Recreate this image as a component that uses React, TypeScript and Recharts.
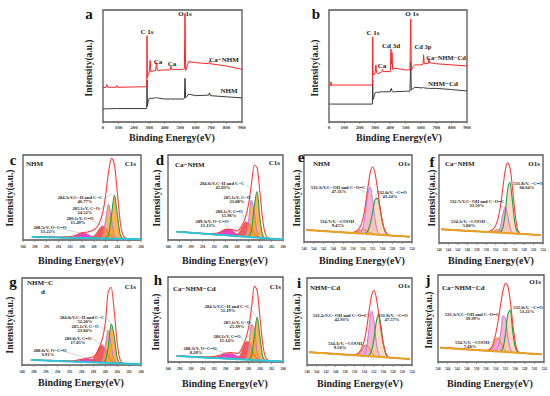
import React from "react";
import { ComposedChart, Area, Line, XAxis, YAxis, ReferenceArea } from "recharts";

const SERIF = "'Liberation Serif', 'Times New Roman', serif";

// ---- survey spectra (a, b) ----
const aX = [0, 20, 25, 30, 85, 90, 95, 280, 283, 285, 287, 292, 300, 305, 310, 340, 347, 352, 400, 435, 440, 445, 520, 527, 531, 535, 545, 555, 600, 685, 690, 695, 800, 900];
const aCaNhm = [30.6, 31, 33.5, 31, 31, 32.5, 31, 31.5, 31.5, 77, 39, 42, 45, 55, 45, 46, 53, 46, 46.5, 46.5, 50, 47, 47, 48, 97, 46, 50, 54, 53, 52, 54.5, 52, 50, 47];
const aNhm = [11.6, 11.8, 11.8, 11.8, 12, 12, 12, 12, 12, 37.5, 14, 18, 21, 21.5, 21, 21.5, 22, 21.5, 20.5, 20.5, 21, 20.5, 20.5, 21, 39, 21.5, 23, 25, 23.5, 24, 26, 23.5, 22.5, 21.5];

const bX = [0, 10, 13, 16, 20, 280, 283, 285, 287, 292, 300, 306, 310, 320, 345, 349, 353, 400, 404, 407, 411, 415, 420, 430, 500, 528, 533, 537, 545, 560, 600, 613, 617, 621, 648, 652, 656, 700, 800, 900];
const bCaNhmCd = [32, 32.5, 36, 32.5, 33, 33, 33, 76, 44, 42, 43, 51, 44, 43, 45, 47, 45, 45, 65, 52, 62, 47, 47, 48, 46.5, 46.5, 92, 46, 49, 51, 51, 51.5, 60, 52, 52.5, 57, 53, 52, 51, 50];
const bNhmCd = [16, 16, 16, 16, 16, 16, 16, 37.5, 20, 22, 26, 26.5, 26.5, 26.5, 27, 27, 27, 27, 29.5, 30, 27.5, 27, 27, 27, 27.5, 27.5, 53.6, 28.5, 29.5, 31, 30.5, 30.5, 31, 30.5, 30, 30, 30, 30, 29, 27.7];

const surveyTicks = [0, 100, 200, 300, 400, 500, 600, 700, 800, 900];

// ---- C1s high resolution (c, d, g, h) ----
const c1sX = [298.5, 296, 294, 292, 291, 290, 289, 288, 287.5, 287, 286.5, 286, 285.5, 285, 284.5, 284, 283.5, 283, 282.5, 282, 281, 280];
const c1sTicks = [280, 282, 284, 286, 288, 290, 292, 294, 296, 298, 300];

const cBase = [3.5, 3.2, 2.9, 2.6, 2.5, 2.4, 2.2, 2.1, 2.0, 1.9, 1.9, 1.8, 1.7, 1.7, 1.6, 1.5, 1.5, 1.4, 1.3, 1.3, 1.1, 1.0];
const cEnv = [4, 3.8, 3.6, 4.0, 5.8, 8.8, 9.5, 12, 15, 21, 32, 52, 80, 96, 88, 55, 20, 5, 2, 1.4, 1.2, 1.0];
const cCC = [3.5, 3.2, 2.9, 2.6, 2.5, 2.4, 2.2, 2.1, 2.0, 1.9, 1.9, 2.0, 6.1, 29.5, 53, 29.3, 5.9, 1.6, 1.3, 1.3, 1.1, 1.0];
const cCO = [3.5, 3.2, 2.9, 2.6, 2.5, 2.4, 2.2, 2.1, 2.0, 2.1, 5.3, 23.6, 42, 23.5, 5.0, 1.7, 1.5, 1.4, 1.3, 1.3, 1.1, 1.0];
const cCdO = [3.5, 3.2, 2.9, 2.6, 2.5, 2.4, 2.3, 4.6, 8.7, 13.9, 16.5, 13.8, 8.5, 4.4, 2.1, 1.5, 1.5, 1.4, 1.3, 1.3, 1.1, 1.0];
const cOCO = [3.5, 3.2, 2.9, 2.8, 4.6, 8.1, 6.6, 3.1, 2.3, 1.95, 1.9, 1.8, 1.7, 1.7, 1.6, 1.5, 1.5, 1.4, 1.3, 1.3, 1.1, 1.0];

const dBase = [9.8, 8.5, 7.5, 6.5, 6.0, 5.5, 5.0, 4.5, 4.3, 4.0, 3.8, 3.5, 3.3, 3.0, 2.8, 2.5, 2.3, 2.0, 1.8, 1.5, 1.0, 0.5];
const dEnv = [10, 8.8, 7.8, 7.5, 9, 12.5, 12.5, 10.5, 13, 19, 27, 42, 65, 88, 85, 55, 22, 6, 2.2, 1.6, 1.0, 0.5];
const dCC = [9.8, 8.5, 7.5, 6.5, 6.0, 5.5, 5.0, 4.5, 4.3, 4.0, 3.8, 3.9, 10.6, 39.3, 57, 24.7, 5.0, 2.1, 1.8, 1.5, 1.0, 0.5];
const dCO = [9.8, 8.5, 7.5, 6.5, 6.0, 5.5, 5.0, 4.5, 4.3, 4.1, 6.0, 21.5, 47, 32.4, 8.7, 2.8, 2.3, 2.0, 1.8, 1.5, 1.0, 0.5];
const dCdO = [9.8, 8.5, 7.5, 6.5, 6.0, 5.5, 5.0, 6.4, 10.2, 16.3, 21.3, 20.3, 14.2, 7.8, 4.2, 2.6, 2.3, 2.0, 1.8, 1.5, 1.0, 0.5];
const dOCO = [9.8, 8.5, 7.5, 6.8, 8.4, 12.0, 11.5, 6.9, 5.3, 4.3, 3.8, 3.5, 3.3, 3.0, 2.8, 2.5, 2.3, 2.0, 1.8, 1.5, 1.0, 0.5];

const gBase = [5.7, 5.1, 4.6, 4.0, 3.8, 3.5, 3.3, 3.0, 2.9, 2.7, 2.6, 2.5, 2.4, 2.3, 2.1, 2.0, 1.9, 1.7, 1.6, 1.5, 1.3, 1.0];
const gEnv = [6, 5.5, 5, 4.8, 5.2, 6.5, 8, 9.5, 13, 20, 30, 48, 84, 89, 62, 25, 6, 2, 1.7, 1.5, 1.3, 1.0];
const gCC = [5.7, 5.1, 4.6, 4.0, 3.8, 3.5, 3.3, 3.0, 2.9, 2.7, 2.6, 4.8, 21.2, 47.5, 32.8, 8.2, 2.3, 1.7, 1.6, 1.5, 1.3, 1.0];
const gCO = [5.7, 5.1, 4.6, 4.0, 3.8, 3.5, 3.3, 3.0, 2.9, 2.9, 5.8, 22.8, 40, 22.6, 5.3, 2.2, 1.9, 1.7, 1.6, 1.5, 1.3, 1.0];
const gCdO = [5.7, 5.1, 4.6, 4.0, 3.8, 3.5, 3.5, 7.4, 13.7, 20.7, 22.8, 17.9, 10.4, 5.1, 2.7, 2.0, 1.9, 1.7, 1.6, 1.5, 1.3, 1.0];
const gOCO = [5.7, 5.1, 4.6, 4.1, 4.4, 5.8, 7.1, 5.7, 4.6, 3.6, 2.9, 2.5, 2.4, 2.3, 2.1, 2.0, 1.9, 1.7, 1.6, 1.5, 1.3, 1.0];

const hBase = [7.0, 6.1, 5.4, 4.7, 4.4, 4.0, 3.7, 3.3, 3.1, 3.0, 2.8, 2.6, 2.4, 2.3, 2.1, 1.9, 1.7, 1.6, 1.4, 1.2, 0.9, 0.5];
const hEnv = [7.5, 6.5, 6, 6.5, 8, 10.5, 11, 10, 12, 18.5, 27, 40, 62, 89, 84, 52, 20, 5, 1.8, 1.3, 0.9, 0.5];
const hCC = [7.0, 6.1, 5.4, 4.7, 4.4, 4.0, 3.7, 3.3, 3.1, 3.0, 2.8, 2.8, 6.7, 29.8, 53, 29.4, 6.0, 1.8, 1.4, 1.2, 0.9, 0.5];
const hCO = [7.0, 6.1, 5.4, 4.7, 4.4, 4.0, 3.7, 3.3, 3.1, 3.0, 4.0, 15.7, 44, 40, 11.1, 2.6, 1.7, 1.6, 1.4, 1.2, 0.9, 0.5];
const hCdO = [7.0, 6.1, 5.4, 4.7, 4.4, 4.0, 3.7, 4.5, 8.0, 15.6, 23.4, 24.1, 16.8, 8.5, 3.8, 2.2, 1.7, 1.6, 1.4, 1.2, 0.9, 0.5];
const hOCO = [7.0, 6.1, 5.4, 5.4, 7.0, 9.4, 9.7, 7.1, 5.5, 4.3, 3.4, 2.7, 2.4, 2.3, 2.1, 1.9, 1.7, 1.6, 1.4, 1.2, 0.9, 0.5];

// ---- O1s high resolution (e, f, i, j) ----
const o1sX = [545.5, 543, 540, 538, 536.5, 536, 535.5, 535, 534.5, 534, 533.5, 533, 532.5, 532, 531.5, 531, 530.5, 530, 529.5, 529, 528.5, 528, 526, 524.5];
const o1sTicks = [524, 526, 528, 530, 532, 534, 536, 538, 540, 542, 544, 546];

const eBase = [13.8, 12.9, 11.8, 11.0, 10.5, 10.3, 10.1, 9.9, 9.8, 9.6, 9.4, 9.2, 9.0, 8.8, 8.6, 8.4, 8.2, 8.0, 7.9, 7.7, 7.5, 7.3, 6.6, 6.0];
const eEnv = [14, 13, 12, 11.3, 11, 11.2, 12, 14, 18, 27, 42, 62, 80, 86.5, 78, 60, 40, 23, 13, 8.8, 7.6, 7.3, 6.6, 6.0];
const eCOH = [13.8, 12.9, 11.8, 11.0, 10.5, 10.3, 10.1, 10.1, 11.2, 17.0, 33.3, 55.6, 63.0, 46.5, 24.4, 12.4, 8.8, 8.0, 7.9, 7.7, 7.5, 7.3, 6.6, 6.0];
const eCdO = [13.8, 12.9, 11.8, 11.0, 10.5, 10.3, 10.1, 9.9, 9.8, 9.6, 10, 12.6, 20.5, 34.9, 48.6, 50.1, 37.4, 22, 12.4, 8.7, 7.6, 7.3, 6.6, 6.0];
const eCOOH = [13.8, 12.9, 11.8, 11.0, 10.6, 10.6, 11.1, 12.3, 13.8, 14.6, 13.9, 12.2, 10.5, 9.4, 8.7, 8.4, 8.2, 8.0, 7.9, 7.7, 7.5, 7.3, 6.6, 6.0];

const fBase = [15.5, 14.7, 13.8, 13.2, 12.7, 12.6, 12.4, 12.3, 12.1, 11.9, 11.8, 11.6, 11.5, 11.3, 11.2, 11.0, 10.9, 10.7, 10.5, 10.4, 10.2, 10.1, 9.5, 9.0];
const fEnv = [16, 15, 14, 13.4, 13, 13, 13.2, 14, 16, 20, 28, 42, 62, 82, 91, 86, 65, 38, 18, 11.5, 10.4, 10.1, 9.5, 9.0];
const fCOH = [15.5, 14.7, 13.8, 13.2, 12.7, 12.6, 12.4, 12.3, 12.1, 12.0, 13.1, 19.0, 32.6, 41.0, 32.3, 18.4, 12.2, 10.8, 10.5, 10.4, 10.2, 10.1, 9.5, 9.0];
const fCdO = [15.5, 14.7, 13.8, 13.2, 12.7, 12.6, 12.4, 12.3, 12.1, 11.9, 11.8, 12.4, 17.3, 33.6, 59.9, 69.0, 49.1, 24.8, 13.3, 10.8, 10.2, 10.1, 9.5, 9.0];
const fCOOH = [15.5, 14.7, 13.8, 13.2, 12.7, 12.6, 12.4, 12.5, 13.1, 14.7, 15.4, 13.6, 12.0, 11.3, 11.2, 11.0, 10.9, 10.7, 10.5, 10.4, 10.2, 10.1, 9.5, 9.0];

const iBase = [14.6, 13.7, 12.6, 11.9, 11.3, 11.2, 11.0, 10.8, 10.6, 10.4, 10.3, 10.1, 9.9, 9.7, 9.5, 9.4, 9.2, 9.0, 8.8, 8.6, 8.4, 8.3, 7.5, 7.0];
const iEnv = [15, 14, 13, 12.2, 11.8, 12, 12.8, 15, 20, 28, 42, 62, 79, 86, 78, 60, 40, 24, 14, 9.5, 8.5, 8.3, 7.5, 7.0];
const iCOH = [14.6, 13.7, 12.6, 11.9, 11.3, 11.2, 11.0, 10.8, 10.6, 11.9, 20.2, 42.3, 62.2, 52.1, 26.7, 12.9, 9.6, 9.0, 8.8, 8.6, 8.4, 8.3, 7.5, 7.0];
const iCdO = [14.6, 13.7, 12.6, 11.9, 11.3, 11.2, 11.0, 10.8, 10.6, 10.4, 10.3, 11.1, 15.6, 29.1, 48.9, 58.0, 44.7, 24.8, 13.0, 9.3, 8.4, 8.3, 7.5, 7.0];
const iCOOH = [14.6, 13.7, 12.6, 11.9, 11.3, 11.3, 11.8, 13.5, 17.3, 21.6, 22.9, 19.7, 14.9, 11.4, 9.9, 9.4, 9.2, 9.0, 8.8, 8.6, 8.4, 8.3, 7.5, 7.0];

const jBase = [16.4, 15.5, 14.4, 13.7, 13.1, 13.0, 12.8, 12.6, 12.4, 12.2, 12.1, 11.9, 11.7, 11.5, 11.3, 11.2, 11.0, 10.8, 10.6, 10.4, 10.2, 10.1, 9.3, 8.8];
const jEnv = [17, 16, 15, 14, 13.5, 13.5, 14, 16, 22, 33, 48, 66, 82, 90.5, 87, 70, 45, 24, 13, 10.8, 10.2, 10.1, 9.3, 8.8];
const jCOH = [16.4, 15.5, 14.4, 13.7, 13.1, 13.0, 12.8, 12.6, 12.4, 13.0, 17.8, 33.3, 53, 50, 28.6, 15.2, 11.5, 10.8, 10.6, 10.4, 10.2, 10.1, 9.3, 8.8];
const jCdO = [16.4, 15.5, 14.4, 13.7, 13.1, 13.0, 12.8, 12.6, 12.4, 12.2, 12.1, 12.4, 16.3, 31.5, 55, 59.5, 35.7, 17.4, 11.5, 10.4, 10.2, 10.1, 9.3, 8.8];
const jCOOH = [16.4, 15.5, 14.4, 13.7, 13.1, 13.0, 13.2, 14.7, 19.3, 25.7, 27.8, 22.9, 16.3, 12.7, 11.5, 11.2, 11.0, 10.8, 10.6, 10.4, 10.2, 10.1, 9.3, 8.8];

const zip = (xs: number[], cols: Record<string, number[]>) =>
  xs.map((x, i) => {
    const row: any = { x };
    for (const k in cols) row[k] = cols[k][i];
    return row;
  });

type Box = { x: number; y: number; w: number; h: number };
const PAD = 10;

function Frame({ box, data, domain, ticks, reversed, fs, gap, children }: any) {
  const xh = 16;
  return (
    <div style={{ position: "absolute", left: box.x - PAD, top: box.y - PAD }}>
      <ComposedChart
        width={box.w + PAD * 2}
        height={box.h + PAD + xh}
        data={data}
        margin={{ top: PAD, right: PAD, bottom: 0, left: PAD }}
      >
        <XAxis
          dataKey="x"
          type="number"
          domain={domain}
          ticks={ticks}
          reversed={reversed}
          allowDataOverflow
          interval={0}
          height={xh}
          axisLine={false}
          tickSize={2}
          tickMargin={gap}
          tickLine={{ stroke: "#666", strokeWidth: 0.6 }}
          tick={{ fontSize: fs, fontFamily: SERIF, fontWeight: 700, fill: "#333" }}
        />
        <YAxis hide type="number" domain={[0, 100]} allowDataOverflow />
        {children}
        <ReferenceArea
          x1={domain[0]}
          x2={domain[1]}
          y1={0}
          y2={100}
          fill="none"
          stroke="#555"
          strokeWidth={1.3}
          ifOverflow="visible"
        />
      </ComposedChart>
    </div>
  );
}

const line = (key: string, color: string, width: number) => (
  <Line key={"l" + key} dataKey={key} type="monotone" stroke={color} strokeWidth={width} dot={false} activeDot={false} isAnimationActive={false} />
);
const band = (key: string, color: string, op: number) => (
  <Area key={"a" + key} dataKey={(d: any) => [d.base, d[key]]} type="monotone" stroke="none" fill={color} fillOpacity={op} isAnimationActive={false} />
);

const c1sSeries = () => [
  band("oco", "#e23cbc", 0.95),
  band("cdo", "#f24848", 0.9),
  band("co", "#f5a23a", 0.8),
  band("cc", "#ffa52e", 0.85),
  line("oco", "#d83ab0", 0.6),
  line("cdo", "#ee4040", 0.6),
  line("co", "#b47be6", 1),
  line("cc", "#1f9e48", 1.1),
  line("env", "#ff3b3b", 1.1),
  line("base", "#2ec6d6", 2),
];

const o1sSeries = () => [
  band("cooh", "#f08ad6", 0.8),
  band("coh", "#f5a9c4", 0.85),
  band("cdo", "#f9cda8", 0.7),
  line("cooh", "#e39a22", 1.1),
  line("coh", "#b47be6", 1),
  line("cdo", "#1f9e48", 1.1),
  line("env", "#ff3b3b", 1.1),
  line("base", "#e8a224", 2),
];

const T = ({ x, y, s, a = "middle", r, c = "#222", children }: any) => (
  <text
    x={x}
    y={y}
    fontSize={s}
    fontFamily={SERIF}
    fontWeight={700}
    fill={c}
    textAnchor={a}
    dominantBaseline="central"
    transform={r ? `rotate(${r} ${x} ${y})` : undefined}
  >
    {children}
  </text>
);

const boxes: Record<string, Box> = {
  a: { x: 103, y: 10, w: 139, h: 112 },
  b: { x: 329, y: 10, w: 138, h: 112 },
  c: { x: 23, y: 155, w: 118, h: 85 },
  d: { x: 168, y: 155, w: 115, h: 85 },
  e: { x: 304, y: 155, w: 108, h: 87 },
  f: { x: 439, y: 155, w: 104, h: 88 },
  g: { x: 22, y: 278, w: 119, h: 87 },
  h: { x: 168, y: 277, w: 115, h: 85 },
  i: { x: 307, y: 278, w: 105, h: 87 },
  j: { x: 438, y: 275, w: 106, h: 87 },
};

const notes: [string, number, number][] = [
  ["284.5eV,C−H and C−C", 80, 197], ["46.77%", 85, 201.5], ["285.1eV, C−O", 86, 208], ["24.52%", 85, 212.5],
  ["286.1eV, C=O", 80, 218], ["15.49%", 78, 222.5], ["288.5eV, O−C=O", 50, 227], ["13.22%", 48, 231.5],
  ["284.6eV,C−H and C−C", 222, 183], ["45.83%", 223, 187.5], ["285.1eV, C−O", 237, 197], ["23.08%", 237, 201.5],
  ["286.1eV, C=O", 229, 211], ["15.96%", 229, 215.5], ["289.3eV, O−C=O", 212, 221], ["15.13%", 208, 225.5],
  ["533.3eV,C−OH and C−O=C", 338, 187], ["47.31%", 339, 191.5], ["532.0eV, −C=O", 392, 192], ["43.24%", 390, 196.5],
  ["534.7eV, −COOH", 337, 221], ["9.45%", 338, 225.5],
  ["531.8eV, −C=O", 528, 183], ["60.64%", 527, 187.5], ["532.7eV,C−OH and C−O=C", 477, 201], ["33.56%", 477, 205.5],
  ["534.1eV, −COOH", 468, 221], ["5.80%", 469, 225.5],
  ["284.6eV,C−H and C−C", 82, 317], ["52.20%", 85, 321.5], ["285.1eV, C−O", 85, 326], ["23.84%", 85, 330.5],
  ["286.0eV, C=O", 78, 338], ["17.05%", 78, 342.5], ["288.6eV, O−C=O", 50, 350], ["6.91%", 48, 354.5],
  ["284.5eV,C−H and C−C", 227, 306], ["51.19%", 228, 310.5], ["285.1eV, C−O", 237, 322], ["25.39%", 237, 326.5],
  ["286.1eV, C=O", 227, 336], ["15.14%", 227, 340.5], ["288.3eV, O−C=O", 200, 348], ["8.28%", 196, 352.5],
  ["533.2eV,C−OH and C−O=C", 340, 315], ["42.93%", 342, 319.5], ["531.9eV, −C=O", 393, 315], ["47.57%", 392, 319.5],
  ["534.1eV, −COOH", 345, 343], ["9.50%", 340, 347.5],
  ["533.3eV,C−OH and C−O=C", 472, 314], ["39.39%", 473, 318.5], ["532.0eV, −C=O", 528, 307], ["53.21%", 527, 311.5],
  ["534.7eV, −COOH", 472, 342], ["7.40%", 470, 346.5],
];

// short pointer strokes from the labels to their peaks
const leaders: [number, number, number, number][] = [
  [104, 199, 112, 194], [98, 210, 106, 206], [92, 220, 100, 225], [62, 229, 80, 233],
  [246, 185, 254, 191], [250, 199, 250, 203], [242, 213, 245, 220], [224, 223, 229, 229],
  [359, 189, 367, 193], [376, 194, 376, 198], [355, 223, 362, 228],
  [513, 184, 509, 186], [499, 203, 503, 208], [486, 222, 496, 228],
  [106, 318, 111, 323], [100, 327, 107, 331], [93, 339, 100, 344], [63, 351, 86, 358],
  [249, 307, 256, 316], [251, 323, 251, 327], [241, 337, 245, 342], [214, 349, 228, 354],
  [364, 316, 369, 313], [377, 317, 377, 320], [361, 344, 366, 346],
  [497, 315, 503, 318], [513, 308, 509, 311], [489, 343, 496, 339],
];

const letters: [string, number, number][] = [
  ["a", 89, 14], ["b", 316, 14], ["c", 13, 160], ["d", 160, 160], ["e", 301, 157],
  ["f", 432, 162], ["g", 13, 282], ["h", 158, 280], ["i", 299, 283], ["j", 428, 280],
];

const yTitles: [number, number][] = [
  [89, 68], [315, 68], [10, 198], [157, 198], [297, 198], [432, 198], [10, 325], [156, 322], [297, 322], [429, 320],
];
const xTitles: [number, number][] = [
  [172, 137], [399, 137], [81, 260], [225, 260], [362, 260], [491, 260], [81, 382], [225, 383], [360, 383], [490, 383],
];

export default function App() {
  const aData = zip(aX, { red: aCaNhm, black: aNhm });
  const bData = zip(bX, { red: bCaNhmCd, black: bNhmCd });
  const c1s = (base: number[], env: number[], cc: number[], co: number[], cdo: number[], oco: number[]) =>
    zip(c1sX, { base, env, cc, co, cdo, oco });
  const o1s = (base: number[], env: number[], coh: number[], cdo: number[], cooh: number[]) =>
    zip(o1sX, { base, env, coh, cdo, cooh });

  const survey = (box: Box, data: any[]) => (
    <Frame box={box} data={data} domain={[0, 900]} ticks={surveyTicks} reversed={false} fs={5} gap={1}>
      <Line dataKey="black" type="linear" stroke="#3a3a3a" strokeWidth={1} dot={false} activeDot={false} isAnimationActive={false} />
      <Line dataKey="red" type="linear" stroke="#ff2424" strokeWidth={1} dot={false} activeDot={false} isAnimationActive={false} />
    </Frame>
  );
  const cPanel = (box: Box, data: any[]) => (
    <Frame box={box} data={data} domain={[280, 300]} ticks={c1sTicks} reversed fs={3.5} gap={4}>
      {c1sSeries()}
    </Frame>
  );
  const oPanel = (box: Box, data: any[]) => (
    <Frame box={box} data={data} domain={[524, 546]} ticks={o1sTicks} reversed fs={3.5} gap={4}>
      {o1sSeries()}
    </Frame>
  );

  return (
    <div style={{ position: "absolute", left: 0, top: 0, width: 550, height: 396, background: "#fff", overflow: "hidden" }}>
      {survey(boxes.a, aData)}
      {survey(boxes.b, bData)}
      {cPanel(boxes.c, c1s(cBase, cEnv, cCC, cCO, cCdO, cOCO))}
      {cPanel(boxes.d, c1s(dBase, dEnv, dCC, dCO, dCdO, dOCO))}
      {oPanel(boxes.e, o1s(eBase, eEnv, eCOH, eCdO, eCOOH))}
      {oPanel(boxes.f, o1s(fBase, fEnv, fCOH, fCdO, fCOOH))}
      {cPanel(boxes.g, c1s(gBase, gEnv, gCC, gCO, gCdO, gOCO))}
      {cPanel(boxes.h, c1s(hBase, hEnv, hCC, hCO, hCdO, hOCO))}
      {oPanel(boxes.i, o1s(iBase, iEnv, iCOH, iCdO, iCOOH))}
      {oPanel(boxes.j, o1s(jBase, jEnv, jCOH, jCdO, jCOOH))}
      <svg width={550} height={396} style={{ position: "absolute", left: 0, top: 0, pointerEvents: "none" }}>
        {leaders.map(([x1, y1, x2, y2], k) => (
          <line key={"p" + k} x1={x1} y1={y1} x2={x2} y2={y2} stroke="#8a8a8a" strokeWidth={0.4} />
        ))}
        {/* survey peak labels */}
        <T x={147} y={32} s={7}>C 1s</T>
        <T x={158} y={62} s={7}>Ca</T>
        <T x={172} y={64} s={7}>Ca</T>
        <T x={185} y={14} s={7}>O 1s</T>
        <T x={224} y={60} s={7}>Ca−NHM</T>
        <T x={229} y={91} s={7}>NHM</T>
        <T x={373} y={33} s={7}>C 1s</T>
        <T x={382} y={66} s={7}>Ca</T>
        <T x={391} y={46} s={7}>Cd 3d</T>
        <T x={412} y={14} s={7}>O 1s</T>
        <T x={423} y={46.5} s={6.5}>Cd 3p</T>
        <T x={446} y={57} s={6.5}>Ca−NHM−Cd</T>
        <T x={443} y={84} s={7}>NHM−Cd</T>
        {/* sample names and regions */}
        <T x={26} y={164} s={7} a="start">NHM</T>
        <T x={136} y={164} s={7} a="end">C1s</T>
        <T x={175} y={165} s={7} a="start">Ca−NHM</T>
        <T x={280} y={163} s={7} a="end">C1s</T>
        <T x={313} y={164} s={7} a="start">NHM</T>
        <T x={410} y={164} s={7} a="end">O1s</T>
        <T x={445} y={164} s={7} a="start">Ca−NHM</T>
        <T x={540} y={164} s={7} a="end">O1s</T>
        <T x={27} y={283} s={7} a="start">NHM−C</T>
        <T x={43} y={292} s={7}>d</T>
        <T x={136} y={287} s={7} a="end">C1s</T>
        <T x={173} y={289} s={7} a="start">Ca−NHM−Cd</T>
        <T x={281} y={287} s={7} a="end">C1s</T>
        <T x={310} y={288} s={7} a="start">NHM−Cd</T>
        <T x={410} y={286} s={7} a="end">O1s</T>
        <T x={442} y={288} s={7} a="start">Ca−NHM−Cd</T>
        <T x={541} y={282} s={7} a="end">O1s</T>
        {notes.map(([t, x, y], k) => (
          <T key={"n" + k} x={x} y={y} s={4.6}>{t}</T>
        ))}
        {letters.map(([t, x, y]) => (
          <T key={t} x={x} y={y} s={15} c="#111">{t}</T>
        ))}
        {yTitles.map(([x, y], k) => (
          <T key={"y" + k} x={x} y={y} s={9.5} r={-90}>Intensity(a.u.)</T>
        ))}
        {xTitles.map(([x, y], k) => (
          <T key={"x" + k} x={x} y={y} s={10}>Binding Energy(eV)</T>
        ))}
      </svg>
    </div>
  );
}
